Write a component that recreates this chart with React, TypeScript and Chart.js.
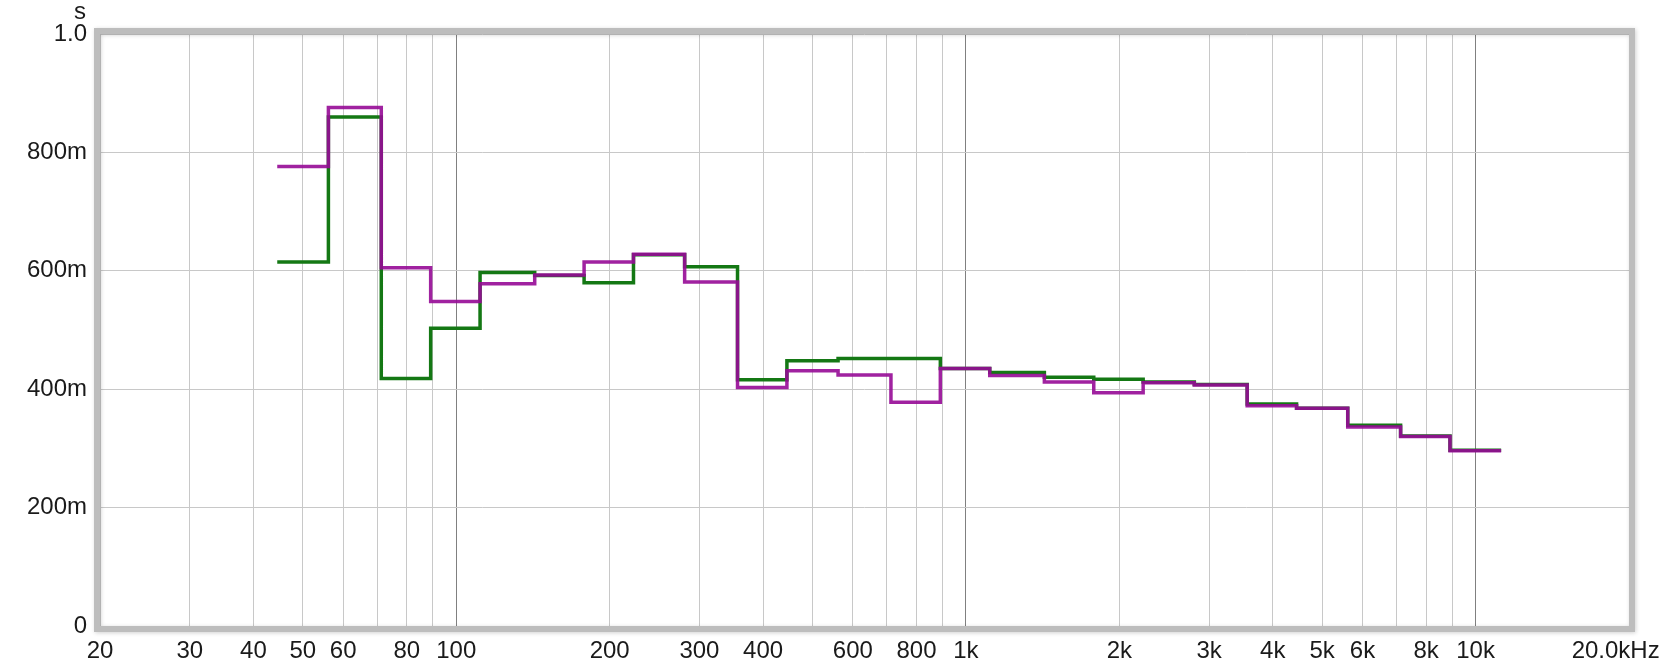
import React, { useEffect, useRef } from "react";
import { Chart, registerables } from "chart.js";

Chart.register(...registerables);

// 1/3-octave band centre frequencies (Hz)
const bandCenters = [50, 63, 80, 100, 125, 160, 200, 250, 315, 400, 500, 630, 800, 1000, 1250, 1600, 2000, 2500, 3150, 4000, 5000, 6300, 8000, 10000];

// Decay times (s) per band
const greenValues = [0.615, 0.86, 0.418, 0.503, 0.597, 0.592, 0.58, 0.627, 0.607, 0.416, 0.448, 0.452, 0.452, 0.435, 0.428, 0.42, 0.417, 0.412, 0.408, 0.375, 0.368, 0.339, 0.321, 0.297];
const magentaValues = [0.776, 0.876, 0.605, 0.548, 0.578, 0.593, 0.615, 0.628, 0.581, 0.403, 0.431, 0.424, 0.378, 0.435, 0.423, 0.412, 0.394, 0.411, 0.407, 0.372, 0.368, 0.336, 0.32, 0.296];

// Axis ticks
const xTickValues = [20, 30, 40, 50, 60, 70, 80, 90, 100, 200, 300, 400, 500, 600, 700, 800, 900, 1000, 2000, 3000, 4000, 5000, 6000, 7000, 8000, 9000, 10000, 20000];
const xTickLabelValues = [20, 30, 40, 50, 60, 80, 100, 200, 300, 400, 600, 800, 1000, 2000, 3000, 4000, 5000, 6000, 8000, 10000, 20000];
const xTickLabelTexts = ["20", "30", "40", "50", "60", "80", "100", "200", "300", "400", "600", "800", "1k", "2k", "3k", "4k", "5k", "6k", "8k", "10k", "20.0kHz    "];
const decadeLines = [100, 1000, 10000];
const yTickValues = [0, 0.2, 0.4, 0.6, 0.8, 1.0];
const yTickLabels = ["0", "200m", "400m", "600m", "800m", "1.0"];

const THIRD = Math.pow(2, 1 / 6);

function stepPoints(values: number[]) {
  const pts = bandCenters.map((f, i) => ({ x: f / THIRD, y: values[i] }));
  const last = bandCenters.length - 1;
  pts.push({ x: bandCenters[last] * THIRD, y: values[last] });
  return pts;
}

const FONT = "'Liberation Sans', Arial, sans-serif";

const framePlugin = {
  id: "frameAndUnit",
  afterDraw(chart: any) {
    const { ctx, chartArea } = chart;
    const { left, top, right, bottom } = chartArea;
    ctx.save();
    ctx.shadowColor = "rgba(0,0,0,0.18)";
    ctx.shadowBlur = 4;
    ctx.shadowOffsetX = 1;
    ctx.shadowOffsetY = 1;
    ctx.strokeStyle = "#bdbdbd";
    ctx.lineWidth = 6;
    ctx.strokeRect(left - 3, top - 3, right - left + 6, bottom - top + 6);
    ctx.restore();
    ctx.save();
    ctx.fillStyle = "#1a1a1a";
    ctx.font = `24px ${FONT}`;
    ctx.textAlign = "center";
    ctx.textBaseline = "alphabetic";
    ctx.fillText("s", 80, 19);
    ctx.restore();
  },
};

export default function App() {
  const ref = useRef<HTMLCanvasElement | null>(null);

  useEffect(() => {
    if (!ref.current) return;
    const chart = new Chart(ref.current, {
      type: "line",
      data: {
        datasets: [
          {
            label: "B",
            data: stepPoints(magentaValues),
            borderColor: "rgba(150, 10, 150, 0.9)",
            borderWidth: 3.5,
            pointRadius: 0,
            stepped: "before",
            fill: false,
            borderJoinStyle: "miter",
          },
          {
            label: "A",
            data: stepPoints(greenValues),
            borderColor: "#147814",
            borderWidth: 3.5,
            pointRadius: 0,
            stepped: "before",
            fill: false,
            borderJoinStyle: "miter",
          },
        ],
      },
      plugins: [framePlugin],
      options: {
        responsive: false,
        animation: false,
        events: [],
        layout: { padding: { left: 0, top: 34, right: 48, bottom: 0 } },
        plugins: { legend: { display: false }, tooltip: { enabled: false } },
        scales: {
          x: {
            type: "logarithmic",
            min: 20,
            max: 20000,
            afterBuildTicks: (scale: any) => {
              scale.ticks = xTickValues.map((v) => ({ value: v }));
            },
            afterFit: (scale: any) => {
              scale.height = 43;
              scale.paddingLeft = 0;
              scale.paddingRight = 0;
            },
            border: { display: false },
            grid: {
              drawTicks: false,
              lineWidth: 1,
              color: (c: any) => (decadeLines.includes(c.tick?.value) ? "#808080" : "#c8c8c8"),
            },
            ticks: {
              autoSkip: false,
              maxRotation: 0,
              minRotation: 0,
              padding: 11,
              color: "#1a1a1a",
              font: { family: FONT, size: 24 },
              callback: (value: any) => {
                const i = xTickLabelValues.indexOf(Number(value));
                return i >= 0 ? xTickLabelTexts[i] : "";
              },
            },
          },
          y: {
            type: "linear",
            min: 0,
            max: 1,
            afterBuildTicks: (scale: any) => {
              scale.ticks = yTickValues.map((v) => ({ value: v }));
            },
            afterFit: (scale: any) => {
              scale.width = 100;
              scale.paddingTop = 0;
              scale.paddingBottom = 0;
            },
            border: { display: false },
            grid: { drawTicks: false, color: "#c8c8c8", lineWidth: 1 },
            ticks: {
              padding: 13,
              color: "#1a1a1a",
              font: { family: FONT, size: 24 },
              callback: (value: any) => {
                const i = yTickValues.findIndex((v) => Math.abs(v - Number(value)) < 1e-6);
                return i >= 0 ? yTickLabels[i] : "";
              },
            },
          },
        },
      },
    });
    return () => chart.destroy();
  }, []);

  return (
    <div style={{ position: "fixed", left: 0, top: 0, width: 1677, height: 669, background: "#fff" }}>
      <canvas ref={ref} width={1677} height={669} style={{ display: "block", width: 1677, height: 669 }} />
    </div>
  );
}
